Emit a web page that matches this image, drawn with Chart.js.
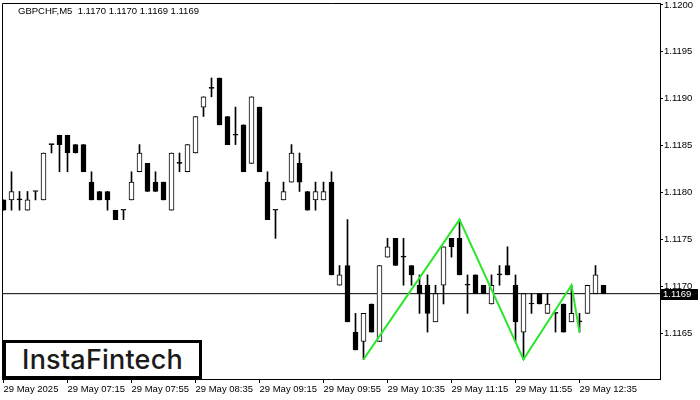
<!DOCTYPE html>
<html lang="en">
<head>
    <meta charset="UTF-8">
    <title>GBPCHF M5</title>
    <script src="https://cdn.jsdelivr.net/npm/chart.js"></script>
    <style>
        body { margin: 0; background: #fff; }
        .wrap { position: relative; width: 700px; height: 400px; }
        .logo {
            position: absolute; left: 3px; top: 340px; width: 193px; height: 33px;
            border: 3px solid #000; background: #fff;
            font-family: Inter, sans-serif; font-weight: 500; font-size: 27px;
            color: #1b1b1b; line-height: 33px; text-align: center; letter-spacing: 0.2px;
        }
    </style>
</head>
<body>
<div class="wrap">
    <canvas id="myChart" width="700" height="400"></canvas>
    <div class="logo">InstaFintech</div>
</div>
<script>
    // M5 candles, 29 May 2025 from 06:35
    const open = [1.11792, 1.11792, 1.11792, 1.11781, 1.11801, 1.11792, 1.11851, 1.11861, 1.11861, 1.11851,
        1.11851, 1.11811, 1.11801, 1.11801, 1.11781, 1.11781, 1.11792, 1.11822, 1.11831, 1.11811,
        1.11811, 1.11781, 1.11831, 1.11822, 1.11842, 1.11891, 1.11911, 1.11922, 1.11881, 1.11861,
        1.11872, 1.11831, 1.11891, 1.11811, 1.11781, 1.11792, 1.11811, 1.11831, 1.11801, 1.11792,
        1.11792, 1.11811, 1.11701, 1.11722, 1.11651, 1.11641, 1.11681, 1.11641, 1.11731, 1.11751,
        1.11731, 1.11722, 1.11701, 1.11701, 1.11662, 1.11701, 1.11751, 1.11751, 1.11701, 1.11712,
        1.11701, 1.11681, 1.11712, 1.11722, 1.11701, 1.11651, 1.11681, 1.11692, 1.11671, 1.11671,
        1.11681, 1.11662, 1.11662, 1.11671, 1.11692, 1.11701];
    const high = [1.11792, 1.11822, 1.11801, 1.11801, 1.11801, 1.11842, 1.11851, 1.11861, 1.11861, 1.11851,
        1.11851, 1.11822, 1.11801, 1.11801, 1.11781, 1.11781, 1.11822, 1.11851, 1.11831, 1.11822,
        1.11811, 1.11842, 1.11842, 1.11851, 1.11881, 1.11902, 1.11922, 1.11922, 1.11881, 1.11891,
        1.11872, 1.11902, 1.11891, 1.11822, 1.11781, 1.11811, 1.11851, 1.11842, 1.11801, 1.11811,
        1.11811, 1.11822, 1.11722, 1.11771, 1.11671, 1.11671, 1.11681, 1.11722, 1.11751, 1.11751,
        1.11751, 1.11722, 1.11712, 1.11712, 1.11701, 1.11742, 1.11751, 1.11771, 1.11712, 1.11712,
        1.11701, 1.11712, 1.11722, 1.11742, 1.11712, 1.11692, 1.11692, 1.11692, 1.11692, 1.11671,
        1.11681, 1.11701, 1.11671, 1.11701, 1.11722, 1.11701];
    const low = [1.11781, 1.11781, 1.11781, 1.11781, 1.11792, 1.11792, 1.11842, 1.11822, 1.11822, 1.11842,
        1.11822, 1.11792, 1.11792, 1.11781, 1.11771, 1.11771, 1.11792, 1.11822, 1.11801, 1.11801,
        1.11792, 1.11781, 1.11822, 1.11822, 1.11842, 1.11881, 1.11902, 1.11872, 1.11851, 1.11851,
        1.11822, 1.11831, 1.11822, 1.11771, 1.11751, 1.11792, 1.11811, 1.11801, 1.11781, 1.11781,
        1.11792, 1.11712, 1.11701, 1.11662, 1.11632, 1.11622, 1.11651, 1.11641, 1.11731, 1.11722,
        1.11701, 1.11701, 1.11671, 1.11651, 1.11662, 1.11681, 1.11731, 1.11712, 1.11671, 1.11692,
        1.11692, 1.11681, 1.11701, 1.11712, 1.11641, 1.11622, 1.11671, 1.11681, 1.11671, 1.11651,
        1.11651, 1.11662, 1.11651, 1.11671, 1.11692, 1.11692];
    const close = [1.11781, 1.11801, 1.11792, 1.11792, 1.11801, 1.11842, 1.11851, 1.11851, 1.11842, 1.11842,
        1.11822, 1.11792, 1.11792, 1.11792, 1.11771, 1.11781, 1.11811, 1.11842, 1.11801, 1.11801,
        1.11792, 1.11842, 1.11831, 1.11851, 1.11881, 1.11902, 1.11911, 1.11872, 1.11851, 1.11861,
        1.11822, 1.11902, 1.11822, 1.11771, 1.11781, 1.11801, 1.11842, 1.11811, 1.11781, 1.11801,
        1.11801, 1.11712, 1.11712, 1.11662, 1.11632, 1.11671, 1.11651, 1.11722, 1.11742, 1.11722,
        1.11731, 1.11712, 1.11692, 1.11671, 1.11692, 1.11742, 1.11742, 1.11712, 1.11701, 1.11692,
        1.11692, 1.11701, 1.11712, 1.11712, 1.11662, 1.11692, 1.11681, 1.11681, 1.11681, 1.11671,
        1.11651, 1.11671, 1.11662, 1.11701, 1.11712, 1.11692];

    // triple bottom pattern (candle index, price)
    const patternIdx = [45, 57, 65, 71, 72];
    const patternPrice = [1.11622, 1.11771, 1.11622, 1.11701, 1.11651];

    const timeTickIdx = [0, 8, 16, 24, 32, 40, 48, 56, 64, 72];
    const timeLabels = ['29 May 2025', '29 May 07:15', '29 May 07:55', '29 May 08:35', '29 May 09:15',
        '29 May 09:55', '29 May 10:35', '29 May 11:15', '29 May 11:55', '29 May 12:35'];
    const priceTicks = [1.1165, 1.1170, 1.1175, 1.1180, 1.1185, 1.1190, 1.1195, 1.1200];

    const symbol = 'GBPCHF,M5';
    const font = { family: 'Liberation Sans', size: 9.5 };
    const last = open.length - 1;

    const bodies = open.map((o, i) => ({ x: i, y: [Math.min(o, close[i]), Math.max(o, close[i])] }));
    const wicks = open.map((o, i) => ({ x: i, y: [low[i], high[i]] }));
    const bodyFill = open.map((o, i) => close[i] > o ? '#ffffff' : '#000000');

    const frame = {
        id: 'frame',
        afterDraw(chart) {
            const { ctx, chartArea: a, scales } = chart;
            ctx.save();
            ctx.strokeStyle = '#000';
            ctx.lineWidth = 1;
            ctx.beginPath();
            ctx.moveTo(Math.round(a.left) + 0.5, Math.round(a.bottom));
            ctx.lineTo(Math.round(a.left) + 0.5, Math.round(a.top) + 0.5);
            ctx.lineTo(Math.round(a.right), Math.round(a.top) + 0.5);
            ctx.stroke();

            // current price label
            const y = scales.y.getPixelForValue(close[last]);
            ctx.fillStyle = '#000';
            ctx.fillRect(a.right + 1, Math.round(y) - 5, 37, 11);
            ctx.fillStyle = '#fff';
            ctx.font = font.size + 'px ' + font.family;
            ctx.textBaseline = 'middle';
            ctx.fillText(close[last].toFixed(4), a.right + 3, Math.round(y) + 0.5);

            // symbol line
            ctx.fillStyle = '#000';
            ctx.fillText(symbol + '  ' + [open[last], high[last], low[last], close[last]].map(v => v.toFixed(4)).join(' '), 18, 11);
            ctx.restore();
        }
    };

    const ctx = document.getElementById('myChart').getContext('2d');
    new Chart(ctx, {
        type: 'bar',
        plugins: [frame],
        data: {
            datasets: [
                {
                    type: 'line',
                    data: [{ x: -1, y: close[last] }, { x: 90, y: close[last] }],
                    borderColor: '#000',
                    borderWidth: 1,
                    pointRadius: 0,
                    order: 4
                },
                {
                    data: wicks,
                    backgroundColor: '#000',
                    barThickness: 1,
                    grouped: false,
                    order: 3
                },
                {
                    data: bodies,
                    backgroundColor: bodyFill,
                    borderColor: '#000',
                    borderWidth: 1,
                    borderSkipped: false,
                    barThickness: 5,
                    minBarLength: 1,
                    grouped: false,
                    order: 2
                },
                {
                    type: 'line',
                    data: patternIdx.map((x, i) => ({ x: x, y: patternPrice[i] })),
                    borderColor: '#2ee62e',
                    borderWidth: 2,
                    pointRadius: 0,
                    order: 1
                }
            ]
        },
        options: {
            responsive: false,
            animation: false,
            devicePixelRatio: 1,
            layout: { padding: { left: 2, top: 3, right: 0, bottom: 0 } },
            plugins: { legend: { display: false }, tooltip: { enabled: false } },
            scales: {
                x: {
                    type: 'linear',
                    offset: false,
                    min: -0.1875,
                    max: 82.0625,
                    grid: { offset: false, drawOnChartArea: false, drawTicks: true, tickLength: 4, color: '#000' },
                    border: { display: true, color: '#000' },
                    ticks: {
                        align: 'start',
                        padding: 1,
                        color: '#000',
                        font: font,
                        maxRotation: 0,
                        autoSkip: false,
                        callback: (v) => timeLabels[timeTickIdx.indexOf(v)]
                    },
                    afterBuildTicks: (s) => { s.ticks = timeTickIdx.map(v => ({ value: v })); },
                    afterFit: (s) => { s.height = 21; s.paddingLeft = 0; s.paddingRight = 0; }
                },
                y: {
                    position: 'right',
                    min: 1.11601,
                    max: 1.12002,
                    grid: { drawOnChartArea: false, drawTicks: true, tickLength: 3, color: '#000' },
                    border: { display: true, color: '#000' },
                    ticks: {
                        padding: 1,
                        color: '#000',
                        font: font,
                        callback: (v) => v.toFixed(4)
                    },
                    afterBuildTicks: (s) => { s.ticks = priceTicks.map(v => ({ value: v })); },
                    afterFit: (s) => { s.width = 40; s.paddingTop = 0; s.paddingBottom = 0; }
                }
            }
        }
    });
</script>
</body>
</html>
